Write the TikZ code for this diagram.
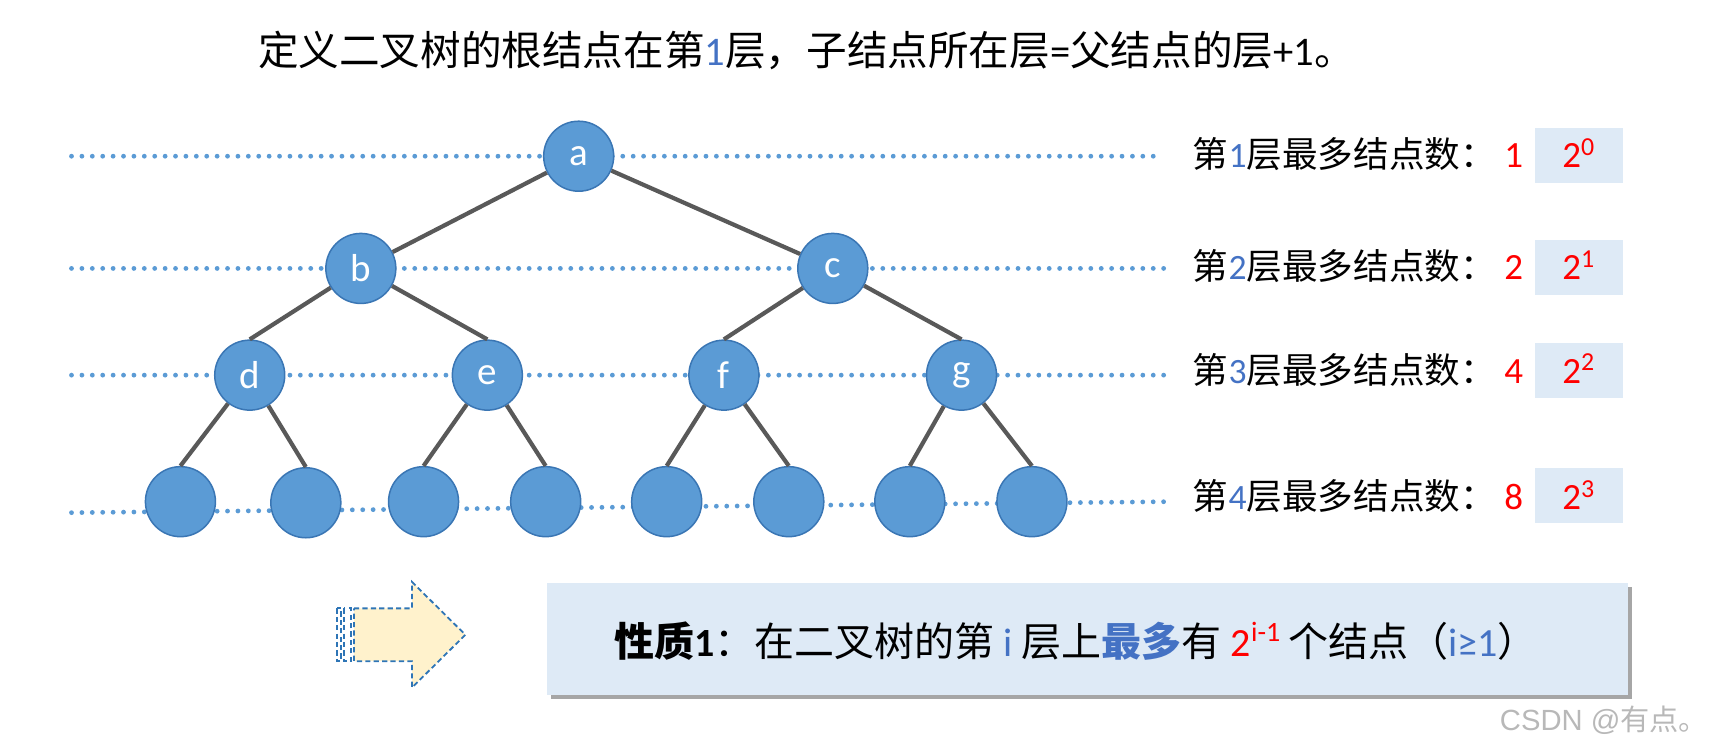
\documentclass[tikz,border=0pt]{standalone}
\usepackage{fontspec}
\setmainfont{Noto Sans CJK SC}
\newfontfamily\lat{Carlito}
\newfontfamily\wmfont{Liberation Sans}
\usetikzlibrary{shadows}
\definecolor{nodefill}{HTML}{5B9BD5}
\definecolor{nodeline}{HTML}{3A76B4}
\definecolor{edgecol}{HTML}{595959}
\definecolor{dotcol}{HTML}{5B9BD5}
\definecolor{numblue}{HTML}{4472C4}
\definecolor{numred}{HTML}{FF0000}
\definecolor{boxfill}{HTML}{DEEAF6}
\definecolor{arrowfill}{HTML}{FFF2CC}
\definecolor{arrowline}{HTML}{2E75B6}
\begin{document}
\begin{tikzpicture}[x=0.55pt,y=-0.55pt,
  tnode/.style={circle,fill=nodefill,draw=nodeline,line width=0.75pt,minimum size=35pt,inner sep=0pt,text=white,font=\lat\fontsize{19.5}{19.5}\selectfont},
  treeedge/.style={edgecol,line width=2.1pt},
  dotrow/.style={dotcol,line width=2.4pt,line cap=round,dash pattern=on 0pt off 5.2pt},
  rowlabel/.style={anchor=base west,inner sep=0pt,font=\fontsize{17.8}{20}\selectfont},
  countlabel/.style={anchor=base,inner sep=0pt,text=numred,font=\lat\fontsize{18.5}{20}\selectfont},
  powbox/.style={fill=boxfill,minimum width=44pt,minimum height=27.5pt,inner sep=0pt},
  powtext/.style={anchor=base,inner sep=0pt,text=numred,font=\lat\fontsize{18.5}{20}\selectfont},
  arrowpart/.style={draw=arrowline,line width=0.9pt,dash pattern=on 2.6pt off 1.6pt}
]
\useasboundingbox (0,0) rectangle (1568,680);

% title
\node[anchor=base,inner sep=0pt,font=\fontsize{20.3}{24}\selectfont] (title) at (733,60)
  {定义二叉树的根结点在第{\lat\color{numblue}1}层，子结点所在层{\lat =}父结点的层{\lat +1}。};

% dotted level lines
\coordinate (r1a) at (65,142);  \coordinate (r1b) at (1055,142);
\coordinate (r2a) at (65,244);  \coordinate (r2b) at (1065,244);
\coordinate (r3a) at (65,341);  \coordinate (r3b) at (1065,341);
\coordinate (r4a) at (65,466);  \coordinate (r4b) at (1065,456);
\draw[dotrow] (r1a) -- (r1b);
\draw[dotrow] (r2a) -- (r2b);
\draw[dotrow] (r3a) -- (r3b);
\draw[dotrow] (r4a) -- (r4b);

% tree nodes
\node[tnode] (a) at (526,142) {a};
\node[tnode] (b) at (328,244) {b};
\node[tnode] (c) at (757,244) {c};
\node[tnode] (d) at (227,341) {d};
\node[tnode] (e) at (443,341) {e};
\node[tnode] (f) at (658,341) {f};
\node[tnode] (g) at (874,341) {g};
\node[tnode] (l1) at (164,456) {};
\node[tnode] (l2) at (278,457) {};
\node[tnode] (l3) at (385,456) {};
\node[tnode] (l4) at (496,456) {};
\node[tnode] (l5) at (606,456) {};
\node[tnode] (l6) at (717,456) {};
\node[tnode] (l7) at (827,456) {};
\node[tnode] (l8) at (938,456) {};

% edges
\draw[treeedge] (a) -- (b);
\draw[treeedge] (a) -- (c);
\draw[treeedge] (b) -- (d.north);
\draw[treeedge] (b) -- (e.north);
\draw[treeedge] (c) -- (f.north);
\draw[treeedge] (c) -- (g.north);
\draw[treeedge] (d) -- (l1.north);
\draw[treeedge] (d) -- (l2.north);
\draw[treeedge] (e) -- (l3.north);
\draw[treeedge] (e) -- (l4.north);
\draw[treeedge] (f) -- (l5.north);
\draw[treeedge] (f) -- (l6.north);
\draw[treeedge] (g) -- (l7.north);
\draw[treeedge] (g) -- (l8.north);

% right-hand labels
\node[rowlabel] (t1) at (1084,152.5) {第{\lat\color{numblue}1}层最多结点数：};
\node[rowlabel] (t2) at (1084,254.5) {第{\lat\color{numblue}2}层最多结点数：};
\node[rowlabel] (t3) at (1084,348.5) {第{\lat\color{numblue}3}层最多结点数：};
\node[rowlabel] (t4) at (1084,463.5) {第{\lat\color{numblue}4}层最多结点数：};
\node[countlabel] (n1) at (1376,152.5) {1};
\node[countlabel] (n2) at (1376,254.5) {2};
\node[countlabel] (n3) at (1376,348.5) {4};
\node[countlabel] (n4) at (1376,463.5) {8};
\node[powbox] (b1) at (1435,141) {};
\node[powbox] (b2) at (1435,243) {};
\node[powbox] (b3) at (1435,337) {};
\node[powbox] (b4) at (1435,450) {};
\node[powtext] (p1) at (1435,152.5) {2\textsuperscript{0}};
\node[powtext] (p2) at (1435,254.5) {2\textsuperscript{1}};
\node[powtext] (p3) at (1435,348.5) {2\textsuperscript{2}};
\node[powtext] (p4) at (1435,463.5) {2\textsuperscript{3}};

% striped arrow
\draw[arrowpart] (306.6,553) rectangle (309.7,601);
\draw[arrowpart] (312.7,553) rectangle (318.8,601);
\draw[arrowpart,fill=arrowfill] (321.8,553) -- (374.5,553) -- (374.5,529) -- (423,577)
  -- (374.5,625) -- (374.5,601) -- (321.8,601) -- cycle;

% property box
\node[fill=boxfill,minimum width=540.65pt,minimum height=56.1pt,inner sep=0pt,
  drop shadow={shadow xshift=2pt,shadow yshift=-2pt,fill=black,opacity=0.35}] (propbox) at (988.5,581) {};
\node[anchor=base,inner sep=0pt,font=\fontsize{20}{24}\selectfont] (prop) at (978,597)
  {\textbf{性质{\lat 1}}：在二叉树的第\ {\lat\color{numblue}i}\ 层上{\bfseries\color{numblue}最多}有\ {\lat\color{numred}2\textsuperscript{i-1}}\,个结点（{\lat\color{numblue}i≥1}）};

% watermark
\node[text=black!28,inner sep=0pt,font=\fontsize{14.6}{16}\selectfont] (wm) at (1458,655) {{\wmfont CSDN @}有点。};
\end{tikzpicture}
\end{document}
